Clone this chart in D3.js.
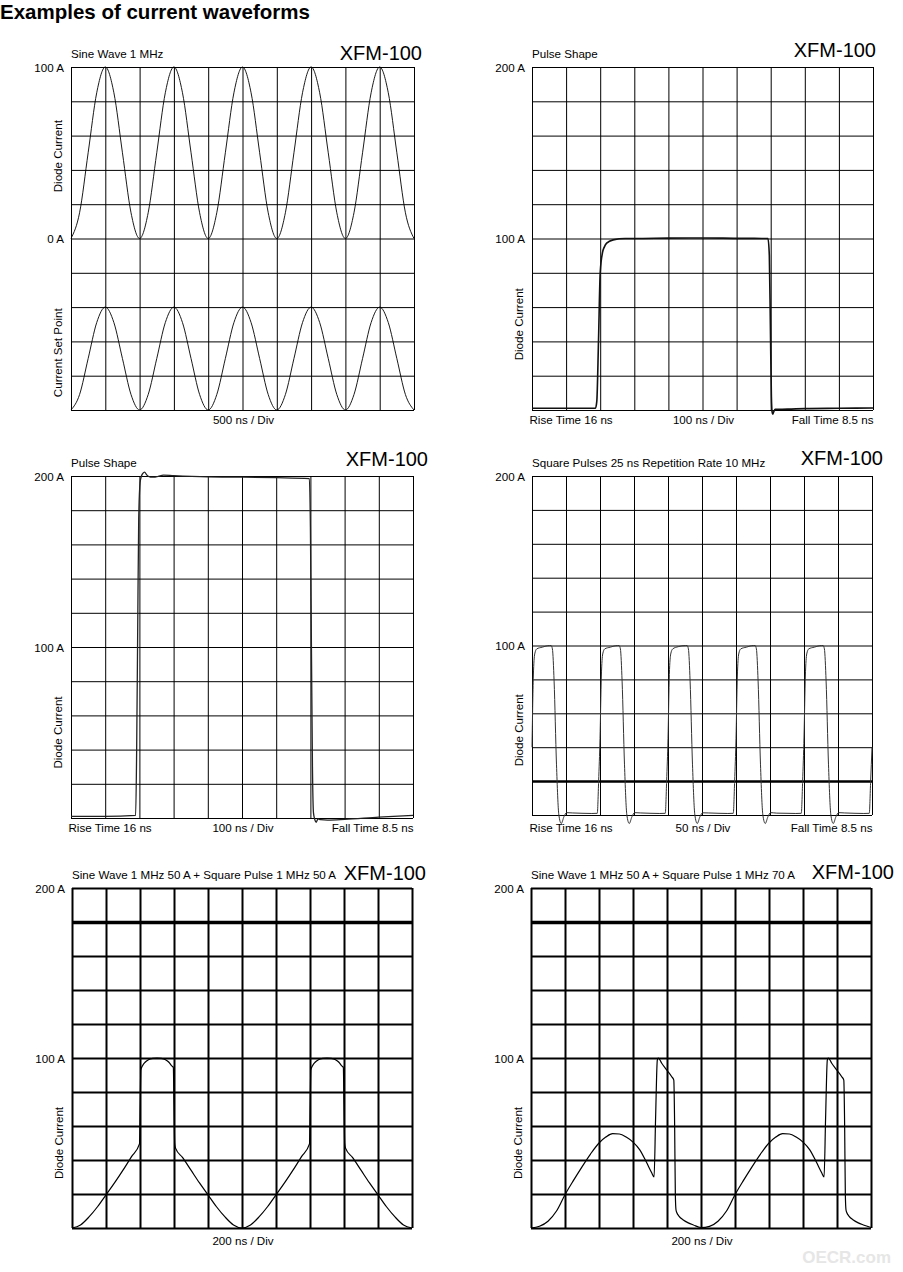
<!DOCTYPE html>
<html lang="en">
<head>
    <meta charset="UTF-8">
    <title>Examples of current waveforms</title>
    <style>
        body { margin: 0; background: #fff; }
        .chart text { font-family: "Liberation Sans", Arial, sans-serif; fill: #000; }
        .chart .small { font-size: 11.6px; }
        .chart .model { font-size: 20px; }
        .chart .heading { font-size: 20.5px; font-weight: bold; }
        .chart .mark { font-size: 17px; font-weight: bold; fill: #e6e6e6; }
        .grid line { stroke: #000; }
        .trace { fill: none; stroke-linejoin: round; }
    </style>
</head>
<body>
<svg class="chart" width="903" height="1272"></svg>
<script src="https://d3js.org/d3.v7.min.js"></script>
<script>

// ---- data (time in ns, current in A) ----

var p1Time = [0,125,250,375,500,625,750,875,1000,1125,1250,1375,1500,1625,1750,1875,2000,2125,2250,2375,2500,
    2625,2750,2875,3000,3125,3250,3375,3500,3625,3750,3875,4000,4125,4250,4375,4500,4625,4750,4875,5000];
var p1Diode = [0,15,50,85,100,85,50,15,0,15,50,85,100,85,50,15,0,15,50,85,100,
    85,50,15,0,15,50,85,100,85,50,15,0,15,50,85,100,85,50,15,0];
// set point trace, in % of its own (3 division) height
var p1SetPoint = [0,15,50,85,100,85,50,15,0,15,50,85,100,85,50,15,0,15,50,85,100,
    85,50,15,0,15,50,85,100,85,50,15,0,15,50,85,100,85,50,15,0];

var p2Time = [0,100,186,190,195,200,207,212,219,238,273,300,400,500,600,692,696,699,702,704,706,709,713,750,800,900,1000];
var p2Current = [1,1,1,5,40,80,92,95,97.3,99.2,100,100,100.2,100.3,100.1,100,90,50,8,-1,-2.5,-1,0.4,0.5,0.8,1,1.2];

var p3Time = [0,100,189,192,195,198,202,206,210,215,222,232,242,255,270,300,400,500,600,697,700,703,706,709,713,717,722,730,750,800,900,1000];
var p3Current = [1,1,1.5,40,110,175,196,200,201.5,202.3,200.5,199.4,199.3,199.8,200.5,200.2,199.5,199.3,199,198.5,170,100,30,3,-1,-2.5,-0.5,-1,-1.2,-0.8,0.5,1.5];

var p4Time = [
    0,2,4,7,15,26,28,30,32.5,36,39.5,43,47,51,60,75,88,
    96,98,100,102,104,107,115,126,128,130,132.5,136,139.5,143,147,151,160,175,188,
    196,198,200,202,204,207,215,226,228,230,232.5,236,239.5,243,247,251,260,275,288,
    296,298,300,302,304,307,315,326,328,330,332.5,336,339.5,343,347,351,360,375,388,
    396,398,400,402,404,407,415,426,428,430,432.5,436,439.5,443,447,451,460,475,488,
    496,498,500];
var p4Current = [
    40,82,95,98,99,100,100,98,79,30,0,-5,-1,1.4,1.2,1,0.9,
    1,20,45,82,95,98,99,100,100,98,79,30,0,-5,-1,1.4,1.2,1,0.9,
    1,20,45,83,95,98,99.3,100,100,98,79,30,0,-5,-1,1.3,1.2,1,0.9,
    1,20,45,82,95,98,99,100,100,98,79,30,0,-5,-1,1.4,1.1,1,0.9,
    1,20,46,82,95,98,99,100,100,98,79,30,0,-5,-1,1.4,1.2,1,0.9,
    1,20,40];

var p5Time = [0,50,100,150,200,250,300,350,397,401,405,415,430,450,475,500,525,550,570,585,596,600,604,609,650,700,750,800,850,900,950,
    1000,1050,1100,1150,1200,1250,1300,1350,1397,1401,1405,1415,1430,1450,1475,1500,1525,1550,1570,1585,1596,1600,1604,1609,1650,1700,1750,1800,1850,1900,1950,2000];
var p5Current = [0,1.8,6.5,12.5,19.5,26.5,34,42,49.5,72,93,95.5,97.5,99,99.8,100,99.8,99,97.5,95.5,94.5,72,50,47,41.5,34,26.5,19.5,12.5,6.5,1.8,
    0,1.8,6.5,12.5,19.5,26.5,34,42,49.5,72,93,95.5,97.5,99,99.8,100,99.8,99,97.5,95.5,94.5,72,50,47,41.5,34,26.5,19.5,12.5,6.5,1.8,0];

var p6Time = [0,50,100,150,200,250,300,350,400,440,480,520,560,600,640,680,710,724,733,743,749,769,798,828,840,845,849,853,858,870,896,925,955,
    1000,1050,1100,1150,1200,1250,1300,1350,1400,1440,1480,1520,1560,1600,1640,1680,1710,1724,1733,1743,1749,1769,1798,1828,1840,1845,1849,1853,1858,1870,1896,1925,1955,2000];
var p6Current = [0,1,4,10,19.6,28,36,43.5,50,53.5,55.5,55.3,53.5,50.5,46,38.5,32.5,30,65,98.8,100,96.9,93,89,87,60,20,10.6,9,7,4.7,3,1.8,
    0.3,1,4,10,19.6,28,36,43.5,50,53.5,55.5,55.3,53.5,50.5,46,38.5,32.5,30,65,98.8,100,96.9,93,89,87,60,20,10.6,9,7,4.7,3,1.8,0.3];

var panelTitles = ["Sine Wave 1 MHz", "Pulse Shape", "Pulse Shape", "Square Pulses 25 ns Repetition Rate 10 MHz",
    "Sine Wave 1 MHz 50 A + Square Pulse 1 MHz 50 A", "Sine Wave 1 MHz 50 A + Square Pulse 1 MHz 70 A"];
var timeBases = ["500 ns / Div", "100 ns / Div", "100 ns / Div", "50 ns / Div", "200 ns / Div", "200 ns / Div"];
var nsPerDiv = [500, 100, 100, 50, 200, 200];
var yMin = [-100, 0, 0, 0, 0, 0];
var yMax = [100, 200, 200, 200, 200, 200];
var yTickValues = [[100, 0], [200, 100], [200, 100], [200, 100], [200, 100], [200, 100]];
var yTickLabels = [["100 A", "0 A"], ["200 A", "100 A"], ["200 A", "100 A"], ["200 A", "100 A"], ["200 A", "100 A"], ["200 A", "100 A"]];
var hasRiseFall = [false, true, true, true, false, false];

// ---- layout (pixels) ----
var layout = [
    {x: 71,  y: 67,  w: 343, h: 343, modelRight: 422, modelY: 60,  baseY: 424,  gridW: 1, trace: 0.9, color: "#000"},
    {x: 532, y: 67,  w: 341, h: 343, modelRight: 876, modelY: 57,  baseY: 424,  gridW: 1, trace: 1.6, color: "#111"},
    {x: 71,  y: 476, w: 342, h: 342, modelRight: 428, modelY: 466, baseY: 832,  gridW: 1, trace: 1.3, color: "#222"},
    {x: 532, y: 476, w: 340, h: 339, modelRight: 883, modelY: 465, baseY: 832,  gridW: 1, trace: 1,   color: "#333", thick: 20,  thickW: 2.5},
    {x: 72,  y: 888, w: 340, h: 340, modelRight: 426, modelY: 880, baseY: 1245, gridW: 2, trace: 1.2, color: "#000", thick: 180, thickW: 3.5},
    {x: 531, y: 888, w: 340, h: 340, modelRight: 894, modelY: 879, baseY: 1245, gridW: 2, trace: 1.2, color: "#000", thick: 180, thickW: 3.5}
];

var traces = [
    [d3.zip(p1Time, p1Diode)],
    [d3.zip(p2Time, p2Current)],
    [d3.zip(p3Time, p3Current)],
    [d3.zip(p4Time, p4Current)],
    [d3.zip(p5Time, p5Current)],
    [d3.zip(p6Time, p6Current)]
];

var svg = d3.select(".chart");

svg.append("text")
    .attr("class", "heading")
    .attr("x", 0)
    .attr("y", 18.5)
    .text("Examples of current waveforms");

layout.forEach(function(L, i) {
    var x = d3.scaleLinear().domain([0, 10 * nsPerDiv[i]]).range([0, L.w]);
    var y = d3.scaleLinear().domain([yMin[i], yMax[i]]).range([L.h, 0]);
    var yStep = (yMax[i] - yMin[i]) / 10;

    var g = svg.append("g").attr("transform", "translate(" + L.x + "," + L.y + ")");

    // vertical grid from the time axis
    var gx = g.append("g")
        .attr("class", "grid")
        .attr("transform", "translate(0," + L.h + ")")
        .call(d3.axisBottom(x)
            .tickValues(d3.range(11).map(function(k) { return k * nsPerDiv[i]; }))
            .tickSize(-L.h).tickSizeOuter(0).tickFormat(""));
    gx.select(".domain").remove();
    gx.selectAll("line").attr("stroke-width", L.gridW);

    // horizontal grid from the current axis
    var gy = g.append("g")
        .attr("class", "grid")
        .call(d3.axisLeft(y)
            .tickValues(d3.range(11).map(function(k) { return yMin[i] + k * yStep; }))
            .tickSize(-L.w).tickSizeOuter(0).tickFormat(""));
    gy.select(".domain").remove();
    gy.selectAll("line").attr("stroke-width", function(d) {
        return (L.thick !== undefined && Math.abs(d - L.thick) < 1e-6) ? L.thickW : L.gridW;
    });

    var line = d3.line()
        .x(function(d) { return x(d[0]); })
        .y(function(d) { return y(d[1]); })
        .curve(d3.curveMonotoneX);

    traces[i].forEach(function(t) {
        g.append("path")
            .attr("class", "trace")
            .attr("d", line(t))
            .attr("stroke", L.color)
            .attr("stroke-width", L.trace);
    });

    // set point trace of the first panel sits in the bottom three divisions
    if (i === 0) {
        var ySet = d3.scaleLinear().domain([0, 100]).range([L.h, L.h * 0.7]);
        g.append("path")
            .attr("class", "trace")
            .attr("d", d3.line()
                .x(function(d) { return x(d[0]); })
                .y(function(d) { return ySet(d[1]); })
                .curve(d3.curveMonotoneX)(d3.zip(p1Time, p1SetPoint)))
            .attr("stroke", L.color)
            .attr("stroke-width", L.trace);
    }

    // current labels
    g.selectAll(".ylab")
        .data(yTickValues[i])
        .enter().append("text")
        .attr("class", "small ylab")
        .attr("x", -7)
        .attr("y", function(d) { return y(d) + 4.5; })
        .attr("text-anchor", "end")
        .text(function(d, k) { return yTickLabels[i][k]; });

    // panel title and model name
    svg.append("text")
        .attr("class", "small")
        .attr("x", L.x)
        .attr("y", L.y - 9)
        .text(panelTitles[i]);
    svg.append("text")
        .attr("class", "model")
        .attr("x", L.modelRight)
        .attr("y", L.modelY)
        .attr("text-anchor", "end")
        .text("XFM-100");

    // rotated axis names
    var names = i === 0 ? [["Diode Current", 0.26], ["Current Set Point", 0.833]] : [["Diode Current", 0.75]];
    names.forEach(function(n) {
        svg.append("text")
            .attr("class", "small")
            .attr("text-anchor", "middle")
            .attr("transform", "translate(" + (L.x - 9.5) + "," + (L.y + n[1] * L.h) + ") rotate(-90)")
            .text(n[0]);
    });

    // bottom labels
    svg.append("text")
        .attr("class", "small")
        .attr("x", L.x + L.w / 2 + 1)
        .attr("y", L.baseY)
        .attr("text-anchor", "middle")
        .text(timeBases[i]);
    if (hasRiseFall[i]) {
        svg.append("text")
            .attr("class", "small")
            .attr("x", L.x - 2.5)
            .attr("y", L.baseY)
            .text("Rise Time 16 ns");
        svg.append("text")
            .attr("class", "small")
            .attr("x", L.x + L.w + 0.5)
            .attr("y", L.baseY)
            .attr("text-anchor", "end")
            .text("Fall Time 8.5 ns");
    }
});

svg.append("text")
    .attr("class", "mark")
    .attr("x", 891)
    .attr("y", 1263)
    .attr("text-anchor", "end")
    .text("OECR.com");

</script>
</body>
</html>
